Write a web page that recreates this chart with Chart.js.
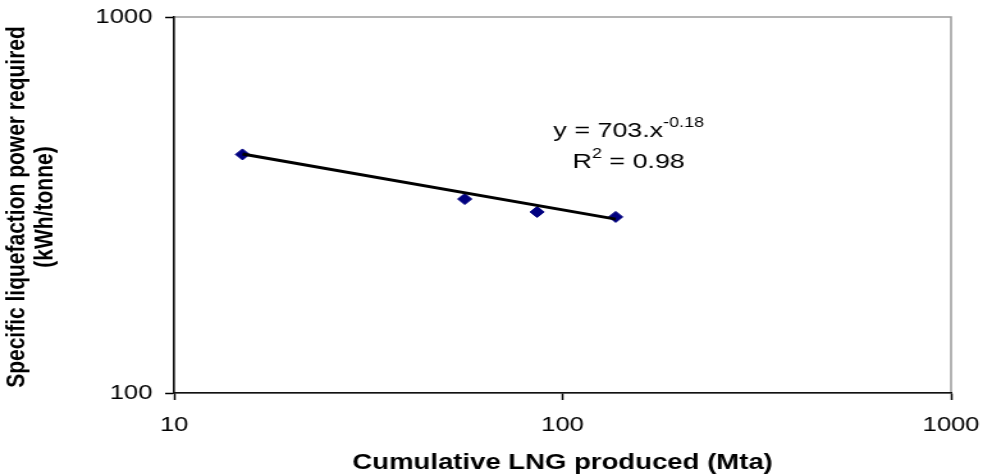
<!DOCTYPE html>
<html>
<head>
<meta charset="utf-8">
<script src="https://cdn.jsdelivr.net/npm/chart.js@4"></script>
<style>
  body { margin: 0; background: #fff; }
  #wrap { width: 768px; height: 476px; transform: scaleX(1.28); transform-origin: 0 0; }
</style>
</head>
<body>
<div id="wrap"><canvas id="myChart"></canvas></div>
<script>
// measured points (cumulative LNG, specific power)
const lngProduced = [15, 56, 86, 137];
const specificPower = [431, 328, 303, 294];
// power-law trendline end points
const trendX = [15, 137];
const trendY = [432, 290];
const xTickValues = [10, 100, 1000];
const yTickValues = [100, 1000];

const xTitle = "Cumulative LNG produced (Mta)";
const yTitle = ["Specific liquefaction power required", "(kWh/tonne)"];

const FONT = '"Liberation Sans", Arial, sans-serif';

const textPlugin = {
  id: "textPlugin",
  beforeDraw(chart) {
    const { ctx, chartArea } = chart;
    ctx.save();
    ctx.strokeStyle = "#9a9a9a";
    ctx.lineWidth = 1.5;
    ctx.strokeRect(chartArea.left, chartArea.top, chartArea.right - chartArea.left, chartArea.bottom - chartArea.top);
    ctx.restore();
  },
  afterDraw(chart) {
    const { ctx, chartArea, scales } = chart;
    ctx.save();
    ctx.fillStyle = "#000";

    // x axis title
    ctx.font = "bold 21.5px " + FONT;
    ctx.textAlign = "center";
    ctx.textBaseline = "alphabetic";
    ctx.fillText(xTitle, (chartArea.left + chartArea.right) / 2, 469);

    // y axis title, two lines
    ctx.font = "bold 21px " + FONT;
    ctx.textBaseline = "middle";
    const titleX = [13, 35];
    yTitle.forEach((line, i) => {
      ctx.save();
      ctx.translate(titleX[i], 207);
      ctx.rotate(-Math.PI / 2);
      ctx.fillText(line, 0, 0);
      ctx.restore();
    });

    // trendline equation
    const cx = scales.x.getPixelForValue(148);
    const by = scales.y.getPixelForValue(480);
    ctx.textBaseline = "alphabetic";
    ctx.textAlign = "left";
    ctx.font = "21px " + FONT;
    const main1 = "y = 703.x";
    const w1 = ctx.measureText(main1).width;
    ctx.font = "14px " + FONT;
    const sup1 = "-0.18";
    const ws1 = ctx.measureText(sup1).width;
    let x0 = cx - (w1 + ws1) / 2;
    ctx.font = "21px " + FONT;
    ctx.fillText(main1, x0, by);
    ctx.font = "14px " + FONT;
    ctx.fillText(sup1, x0 + w1, by - 10);

    const by2 = by + 31;
    ctx.font = "21px " + FONT;
    const wr = ctx.measureText("R").width;
    const rest = " = 0.98";
    const wrest = ctx.measureText(rest).width;
    ctx.font = "14px " + FONT;
    const ws2 = ctx.measureText("2").width;
    x0 = cx - (wr + ws2 + wrest) / 2;
    ctx.font = "21px " + FONT;
    ctx.fillText("R", x0, by2);
    ctx.fillText(rest, x0 + wr + ws2, by2);
    ctx.font = "14px " + FONT;
    ctx.fillText("2", x0 + wr, by2 - 10);
    ctx.restore();
  }
};

function axisStyle(values, fit) {
  return {
    type: "logarithmic",
    afterBuildTicks: (scale) => { scale.ticks = values.map((v) => ({ value: v })); },
    afterFit: fit,
    grid: { display: true, drawOnChartArea: false, drawTicks: true, tickLength: 7, tickColor: "#000", tickWidth: 1.5 },
    border: { display: true, color: "#111", width: 1.5 },
    ticks: {
      color: "#000",
      font: { family: FONT, size: 20 },
      autoSkip: false,
      maxRotation: 0,
      callback: (v) => String(v)
    }
  };
}

// fixed axis sizes, edge labels may overflow into the page margin
const xAxis = axisStyle(xTickValues, (s) => { s.height = 83; s.paddingLeft = 0; s.paddingRight = 0; });
xAxis.min = 10; xAxis.max = 1000;
xAxis.ticks.padding = 13;
const yAxis = axisStyle(yTickValues, (s) => { s.width = 136; s.paddingTop = 0; s.paddingBottom = 0; });
yAxis.min = 100; yAxis.max = 1000;
yAxis.ticks.padding = 10;

const data = {
  datasets: [
    {
      label: "Trend",
      data: trendX.map((x, i) => ({ x: x, y: trendY[i] })),
      showLine: true,
      borderColor: "#000",
      borderWidth: 3,
      pointRadius: 0,
      fill: false,
      order: 0
    },
    {
      label: "Specific power",
      data: lngProduced.map((x, i) => ({ x: x, y: specificPower[i] })),
      pointStyle: "rectRot",
      pointRadius: 5.5,
      backgroundColor: "#000080",
      borderColor: "#000080",
      borderWidth: 1,
      order: 1
    }
  ]
};

const config = {
  type: "scatter",
  data: data,
  options: {
    responsive: true,
    maintainAspectRatio: false,
    animation: false,
    layout: { padding: { top: 17, right: 25, bottom: 0, left: 0 } },
    plugins: { legend: { display: false }, tooltip: { enabled: false } },
    scales: { x: xAxis, y: yAxis }
  },
  plugins: [textPlugin]
};

var myChart = new Chart(document.getElementById("myChart"), config);
</script>
</body>
</html>
